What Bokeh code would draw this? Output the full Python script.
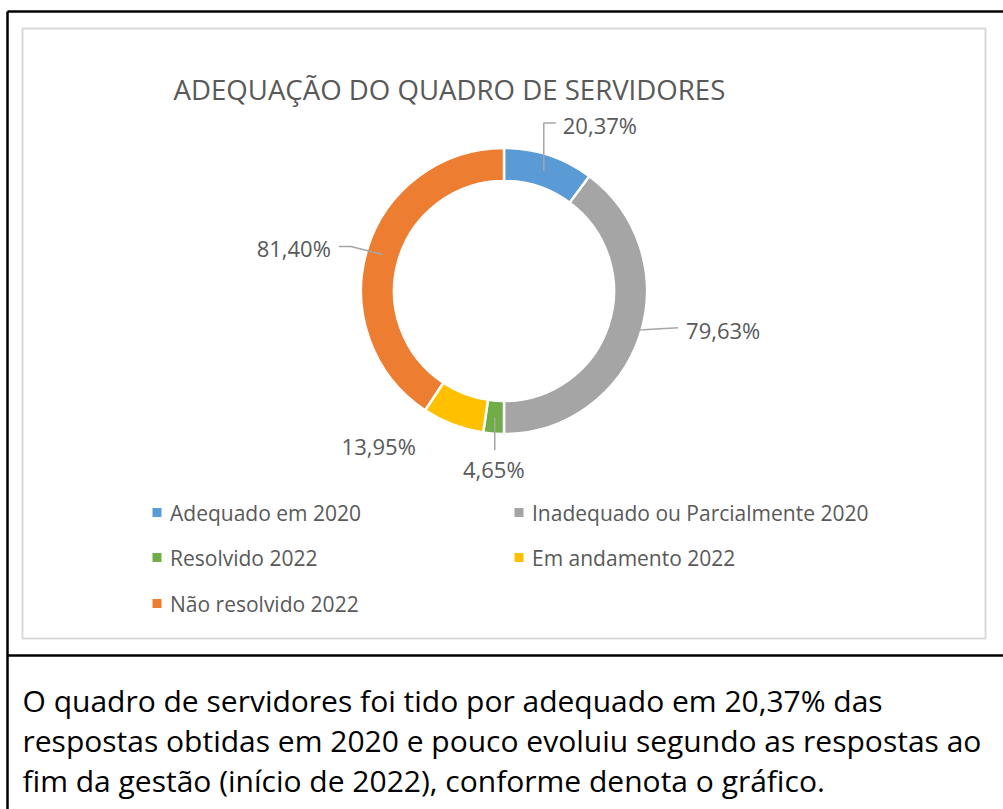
import math
from bokeh.plotting import figure
from bokeh.models import Range1d, ColumnDataSource
from bokeh.core.properties import value
from bokeh.embed import file_html
from bokeh.resources import INLINE

# ---------------- data ----------------
title = "ADEQUAÇÃO DO QUADRO DE SERVIDORES"
categories = ["Adequado em 2020", "Inadequado ou Parcialmente 2020",
              "Resolvido 2022", "Em andamento 2022", "Não resolvido 2022"]
values = [20.37, 79.63, 4.65, 13.95, 81.40]
colors = ["#5B9BD5", "#A5A5A5", "#70AD47", "#FFC000", "#ED7D31"]
caption_lines = [
    "O quadro de servidores foi tido por adequado em 20,37% das",
    "respostas obtidas em 2020 e pouco evoluiu segundo as respostas ao",
    "fim da gestão (início de 2022), conforme denota o gráfico.",
]

# ---------------- layout ----------------
W, H = 1003, 809
FONT = "Open Sans"
def Y(py):
    return H - py

p = figure(width=W, height=H, x_range=Range1d(0, W), y_range=Range1d(0, H),
           output_backend="svg", toolbar_location=None, min_border=0,
           x_axis_type=None, y_axis_type=None)
p.grid.visible = False
p.outline_line_color = None
p.background_fill_color = "white"
p.border_fill_color = "white"

# outer black frame + divider
p.multi_line(xs=[[7, 7], [7, W + 5], [7, W + 5]],
             ys=[[Y(11), Y(H + 5)], [Y(11), Y(11)], [Y(655), Y(655)]],
             line_color="black", line_width=2.5)

# chart area grey border
p.quad(left=[22], right=[985], top=[Y(28)], bottom=[Y(638)],
       fill_color=None, line_color="#D9D9D9", line_width=2)

# title
p.text(x=[173], y=[Y(88)], text=[title], text_font=value(FONT),
       text_font_size="27.6px", text_color="#595959", text_baseline="alphabetic")

# donut
cx, cy = 503.5, 290.5
r_in, r_out = 110, 143
total = sum(values)
starts, ends, mids = [], [], []
c = 0.0
for v in values:
    a0 = c / total * 2 * math.pi
    c += v
    a1 = c / total * 2 * math.pi
    starts.append(math.pi / 2 - a0)
    ends.append(math.pi / 2 - a1)
    mids.append((a0 + a1) / 2)

src = ColumnDataSource(dict(start=starts, end=ends, color=colors, cat=categories))
p.annular_wedge(x=cx, y=Y(cy), inner_radius=r_in, outer_radius=r_out,
                inner_radius_units="screen", outer_radius_units="screen",
                start_angle="start", end_angle="end", direction="clock",
                fill_color="color", line_color="white", line_width=2.5, source=src)

# data labels with leader lines (offsets relative to ring mid-point of each slice)
r_mid = (r_in + r_out) / 2
leader_offsets = [
    [(0, 0), (0, -48), (12, -48)],
    [(0, 0), (19, -1), (54, -3)],
    [(0, 0), (0, 33)],
    None,
    [(0, 0), (-32, -8), (-44, -8)],
]
text_offsets = [(19, -46, "left"), (62, -1, "left"), (-1, 52, "center"),
                (-43, 37, "right"), (-52, -7, "right")]
for i, v in enumerate(values):
    ax = cx + r_mid * math.sin(mids[i])
    ay = cy - r_mid * math.cos(mids[i])
    lo = leader_offsets[i]
    if lo:
        p.line(x=[ax + dx for dx, dy in lo], y=[Y(ay + dy) for dx, dy in lo],
               line_color="#A6A6A6", line_width=1.5)
    tx, ty, al = text_offsets[i]
    lab = f"{v:.2f}".replace(".", ",") + "%"
    p.text(x=[ax + tx], y=[Y(ay + ty)], text=[lab], text_font=value(FONT),
           text_font_size="22px", text_color="#595959", text_align=al,
           text_baseline="middle")

# legend (2 columns, row-major)
col_x = [156.5, 518.5]
row_y = [512, 557, 603]
lx, ly, tx_ = [], [], []
for i, cat in enumerate(categories):
    col, row = i % 2, i // 2
    lx.append(col_x[col])
    ly.append(Y(row_y[row]))
    tx_.append(col_x[col] + 13)
p.scatter(x=lx, y=ly, marker="square", size=9, fill_color=colors, line_color=None)
p.text(x=tx_, y=ly, text=categories, text_font=value(FONT), text_font_size="21px",
       text_color="#595959", text_baseline="middle")

# caption below
baselines = [700, 740, 780]
p.text(x=[22] * len(caption_lines), y=[Y(b) for b in baselines], text=caption_lines,
       text_font=value(FONT), text_font_size="30px", text_color="black",
       text_baseline="alphabetic")

open("out.html", "w").write(file_html(p, INLINE))
